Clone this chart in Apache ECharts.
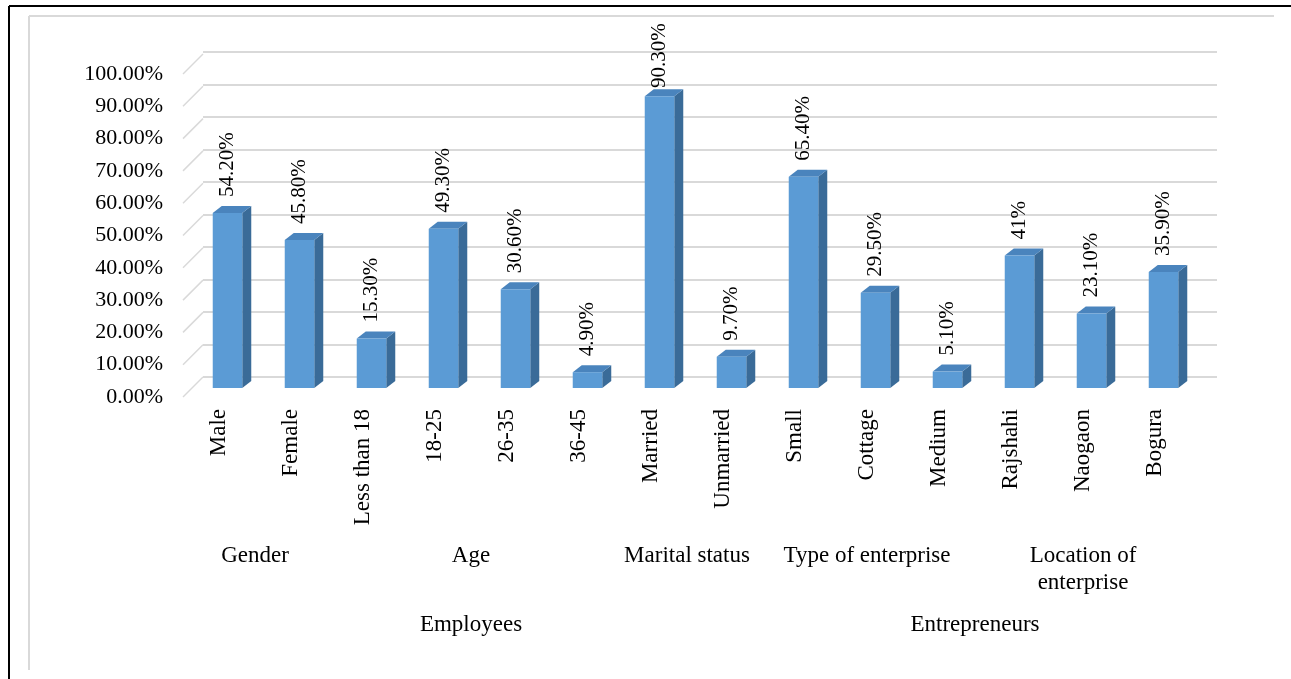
<!DOCTYPE html>
<html>
<head>
<meta charset="utf-8">
<script src="https://cdn.jsdelivr.net/npm/echarts@6/dist/echarts.min.js"></script>
<style>
html,body{margin:0;padding:0;background:#fff;}
#chart{width:1291px;height:679px;}
</style>
</head>
<body>
<div id="chart"></div>
<script>
const categories = ['Male','Female','Less than 18','18-25','26-35','36-45','Married','Unmarried','Small','Cottage','Medium','Rajshahi','Naogaon','Bogura'];
const values = [54.2, 45.8, 15.3, 49.3, 30.6, 4.9, 90.3, 9.7, 65.4, 29.5, 5.1, 41, 23.1, 35.9];
const valueLabels = ['54.20%','45.80%','15.30%','49.30%','30.60%','4.90%','90.30%','9.70%','65.40%','29.50%','5.10%','41%','23.10%','35.90%'];
const groupNames = ['Gender','Age','Marital status','Type of enterprise','Location of\nenterprise'];
const groupStart = [0, 2, 6, 8, 11];
const groupEnd = [1, 5, 7, 10, 13];
const superNames = ['Employees','Entrepreneurs'];
const superStart = [0, 8];
const superEnd = [7, 13];
const yTicks = [0,10,20,30,40,50,60,70,80,90,100];

const FONT = '"Liberation Serif", "Times New Roman", serif';
const FRONT = '#5b9bd5', SIDE = '#3a6b98', TOP = '#4a84bd';
const DX = 9, DY = 7;

const chart = echarts.init(document.getElementById('chart'), null, {renderer:'canvas'});

const option = {
  animation: false,
  backgroundColor: '#fff',
  graphic: [
    {type:'line', shape:{x1:9,y1:6,x2:1291,y2:6}, style:{stroke:'#000',lineWidth:2}, z:0},
    {type:'line', shape:{x1:9,y1:6,x2:9,y2:679}, style:{stroke:'#000',lineWidth:2}, z:0},
    {type:'line', shape:{x1:29,y1:16,x2:1274,y2:16}, style:{stroke:'#d9d9d9',lineWidth:2}, z:0},
    {type:'line', shape:{x1:29,y1:16,x2:29,y2:670}, style:{stroke:'#d9d9d9',lineWidth:2}, z:0}
  ],
  grid: [
    {left:191.5, right:91.5, top:65, bottom:291},
    {left:203, right:74, top:52, bottom:302},
    {left:183, right:100, top:74, bottom:282}
  ],
  xAxis: [
    {gridIndex:0, type:'category', data:categories, show:false},
    {gridIndex:1, type:'category', data:categories, show:false},
    {gridIndex:2, type:'category', data:categories,
      axisLine:{show:false}, axisTick:{show:false}, splitLine:{show:false},
      axisLabel:{rotate:90, interval:0, fontSize:23, fontFamily:FONT, color:'#000', margin:12}}
  ],
  yAxis: [
    {gridIndex:0, type:'value', min:0, max:100, interval:10, show:false},
    {gridIndex:1, type:'value', min:0, max:100, interval:10,
      axisLine:{show:false}, axisTick:{show:false}, axisLabel:{show:false},
      splitLine:{show:true, lineStyle:{color:'#d9d9d9', width:2}}},
    {gridIndex:2, type:'value', min:0, max:100, interval:10,
      axisLine:{show:false}, axisTick:{show:false}, splitLine:{show:false},
      axisLabel:{fontSize:22, fontFamily:FONT, color:'#000', margin:20,
        formatter: v => v.toFixed(2) + '%'}}
  ],
  series: [
    {
      type:'custom', xAxisIndex:2, yAxisIndex:2, clip:false, silent:true,
      data: yTicks.map(v => [0, v]),
      renderItem: function(params, api){
        const p = api.coord([0, api.value(1)]);
        const x0 = params.coordSys.x;
        return {type:'line', shape:{x1:x0, y1:p[1], x2:x0+20, y2:p[1]-20},
          style:{stroke:'#d9d9d9', lineWidth:1.5}};
      }
    },
    {
      type:'custom', xAxisIndex:0, yAxisIndex:0, clip:false, silent:true,
      data: values.map((v,i) => [i, v]),
      renderItem: function(params, api){
        const i = api.value(0), v = api.value(1);
        const pt = api.coord([i, v]);
        const base = api.coord([i, 0])[1];
        const w = api.size([1, 0])[0] * 0.41;
        const xl = pt[0] - w/2, xr = pt[0] + w/2, top = pt[1];
        const labelY = Math.max(top - 16, params.coordSys.y + 23);
        return {type:'group', children:[
          {type:'polygon', shape:{points:[[xr,top],[xr+DX,top-DY],[xr+DX,base-DY],[xr,base]]}, style:{fill:SIDE}},
          {type:'polygon', shape:{points:[[xl,top],[xl+DX,top-DY],[xr+DX,top-DY],[xr,top]]}, style:{fill:TOP}},
          {type:'rect', shape:{x:xl, y:top, width:w, height:base-top}, style:{fill:FRONT}},
          {type:'text', x:pt[0], y:labelY, rotation:Math.PI/2,
            style:{text:valueLabels[params.dataIndex], x:0, y:0, align:'left', verticalAlign:'middle',
              fontSize:21, fontFamily:FONT, fill:'#000'}}
        ]};
      }
    },
    {
      type:'custom', xAxisIndex:2, yAxisIndex:2, clip:false, silent:true,
      data: groupNames.map((n,i) => [groupStart[i], groupEnd[i]]),
      renderItem: function(params, api){
        const xs = api.coord([api.value(0), 0])[0];
        const xe = api.coord([api.value(1), 0])[0];
        const yb = params.coordSys.y + params.coordSys.height;
        return {type:'text', x:(xs+xe)/2, y:yb+145,
          style:{text:groupNames[params.dataIndex], x:0, y:0, align:'center', verticalAlign:'top',
            fontSize:23, fontFamily:FONT, fill:'#000', lineHeight:27}};
      }
    },
    {
      type:'custom', xAxisIndex:2, yAxisIndex:2, clip:false, silent:true,
      data: superNames.map((n,i) => [superStart[i], superEnd[i]]),
      renderItem: function(params, api){
        const xs = api.coord([api.value(0), 0])[0];
        const xe = api.coord([api.value(1), 0])[0];
        const yb = params.coordSys.y + params.coordSys.height;
        return {type:'text', x:(xs+xe)/2, y:yb+228,
          style:{text:superNames[params.dataIndex], x:0, y:0, align:'center', verticalAlign:'middle',
            fontSize:23, fontFamily:FONT, fill:'#000'}};
      }
    }
  ]
};
chart.setOption(option);
</script>
</body>
</html>
